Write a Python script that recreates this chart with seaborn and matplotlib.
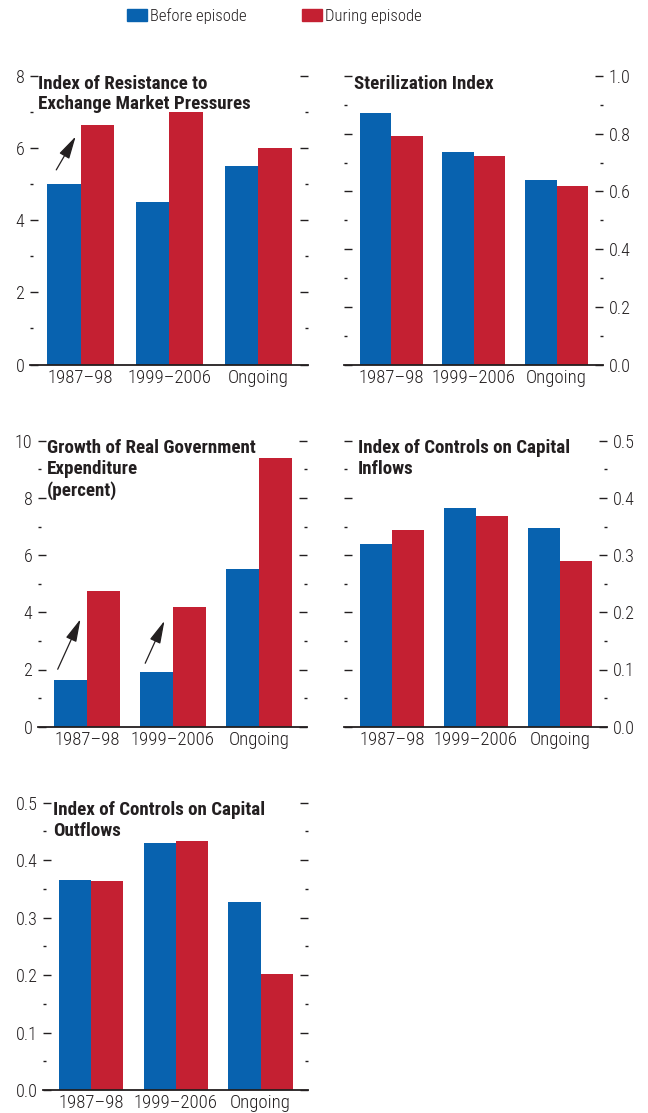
from __future__ import annotations

import matplotlib

matplotlib.use("Agg")
import matplotlib.pyplot as plt
import pandas as pd
import seaborn as sns
from matplotlib.patches import Patch
from matplotlib.ticker import FormatStrFormatter, MultipleLocator


PERIODS = ["1987–98", "1999–2006", "Ongoing"]
PHASES = ["Before episode", "During episode"]

RESISTANCE_BEFORE = [5.0, 4.5, 5.5]
RESISTANCE_DURING = [6.65, 7.0, 6.0]
STERILIZATION_BEFORE = [0.873, 0.736, 0.639]
STERILIZATION_DURING = [0.792, 0.723, 0.618]
GOV_EXP_BEFORE = [1.63, 1.91, 5.51]
GOV_EXP_DURING = [4.74, 4.18, 9.39]
INFLOWS_BEFORE = [0.319, 0.382, 0.347]
INFLOWS_DURING = [0.344, 0.368, 0.290]
OUTFLOWS_BEFORE = [0.365, 0.430, 0.327]
OUTFLOWS_DURING = [0.364, 0.433, 0.202]

BLUE = "#0862AF"
RED = "#C42032"
INK = "#231F20"
FONT = ["Roboto Condensed", "Liberation Sans Narrow", "Roboto"]

W, H = 648, 1113


def long_frame(before: list[float], during: list[float]) -> pd.DataFrame:
    rows = []
    for phase, values in zip(PHASES, [before, during]):
        for period, value in zip(PERIODS, values):
            rows.append({"period": period, "phase": phase, "value": value})
    return pd.DataFrame(rows)


def add_panel(fig, box, before, during, title, ymax, major, fmt, right_labels,
              arrows=(), title_dx=9):
    left, right, top, bottom = box
    ax = fig.add_axes([left / W, 1 - bottom / H, (right - left) / W, (bottom - top) / H])
    sns.barplot(
        data=long_frame(before, during), x="period", y="value", hue="phase",
        palette=[BLUE, RED], width=0.76, gap=0, saturation=1, legend=False,
        linewidth=0, ax=ax,
    )
    ax.set_xlim(-0.57, 2.56)
    ax.set_ylim(0, ymax)
    ax.set_xlabel("")
    ax.set_ylabel("")
    for side in ["top", "left", "right"]:
        ax.spines[side].set_visible(False)
    ax.spines["bottom"].set_color(INK)
    ax.spines["bottom"].set_linewidth(1.3)

    ax.yaxis.set_major_locator(MultipleLocator(major))
    ax.yaxis.set_minor_locator(MultipleLocator(major / 2))
    ax.yaxis.set_major_formatter(FormatStrFormatter(fmt))
    ax.tick_params(axis="y", which="both", direction="in", left=True, right=True,
                   colors=INK, width=1, labelsize=13, pad=4,
                   labelleft=not right_labels, labelright=right_labels)
    ax.tick_params(axis="y", which="major", length=6)
    ax.tick_params(axis="y", which="minor", length=2.5)
    ax.tick_params(axis="x", length=0, labelsize=13.5, colors=INK, pad=3)
    for label in ax.get_xticklabels() + ax.get_yticklabels():
        label.set_family(FONT)
        label.set_fontweight("light")

    ax.text(title_dx / (right - left), 1.005, title, transform=ax.transAxes,
            ha="left", va="top", fontsize=13.7, fontweight="bold", color=INK,
            family=FONT, linespacing=1.2)

    for xs, ys, xe, ye in arrows:
        ax.annotate("", xy=(xe, ye), xytext=(xs, ys),
                    arrowprops=dict(arrowstyle="-|>,head_length=1.0,head_width=0.25",
                                    color=INK, lw=0.9, mutation_scale=14))
    return ax


def main() -> None:
    sns.set_theme(style="white")
    plt.rcParams["font.family"] = FONT
    fig = plt.figure(figsize=(W / 100, H / 100), dpi=100)

    add_panel(fig, (30, 308, 76, 364.5), RESISTANCE_BEFORE, RESISTANCE_DURING,
              "Index of Resistance to\nExchange Market Pressures", 8, 2, "%d", False,
              arrows=[(-0.29, 5.33, -0.04, 6.39)], title_dx=8)
    add_panel(fig, (344, 603, 76, 364.5), STERILIZATION_BEFORE, STERILIZATION_DURING,
              "Sterilization Index", 1.0, 0.2, "%.1f", True, title_dx=10)
    add_panel(fig, (38, 307, 440.7, 726.7), GOV_EXP_BEFORE, GOV_EXP_DURING,
              "Growth of Real Government\nExpenditure\n(percent)", 10, 2, "%d", False,
              arrows=[(-0.354, 1.92, -0.062, 3.85), (0.664, 2.13, 0.915, 3.79)])
    add_panel(fig, (344, 607, 440.7, 726.7), INFLOWS_BEFORE, INFLOWS_DURING,
              "Index of Controls on Capital\nInflows", 0.5, 0.1, "%.1f", True, title_dx=14)
    add_panel(fig, (43, 308, 802.7, 1090), OUTFLOWS_BEFORE, OUTFLOWS_DURING,
              "Index of Controls on Capital\nOutflows", 0.5, 0.1, "%.1f", False, title_dx=10)

    handles = [Patch(color=BLUE, label=PHASES[0]), Patch(color=RED, label=PHASES[1])]
    leg = fig.legend(handles=handles, loc="upper left", bbox_to_anchor=(127 / W, 1 - 8 / H),
                     ncol=2, frameon=False, fontsize=12, handlelength=1.2, handleheight=0.75,
                     handletextpad=0.2, columnspacing=3.3, labelcolor=INK,
                     borderpad=0, borderaxespad=0)
    for text in leg.get_texts():
        text.set_fontweight("light")

    fig.savefig("out.png", dpi=100)
    plt.close(fig)


if __name__ == "__main__":
    main()
